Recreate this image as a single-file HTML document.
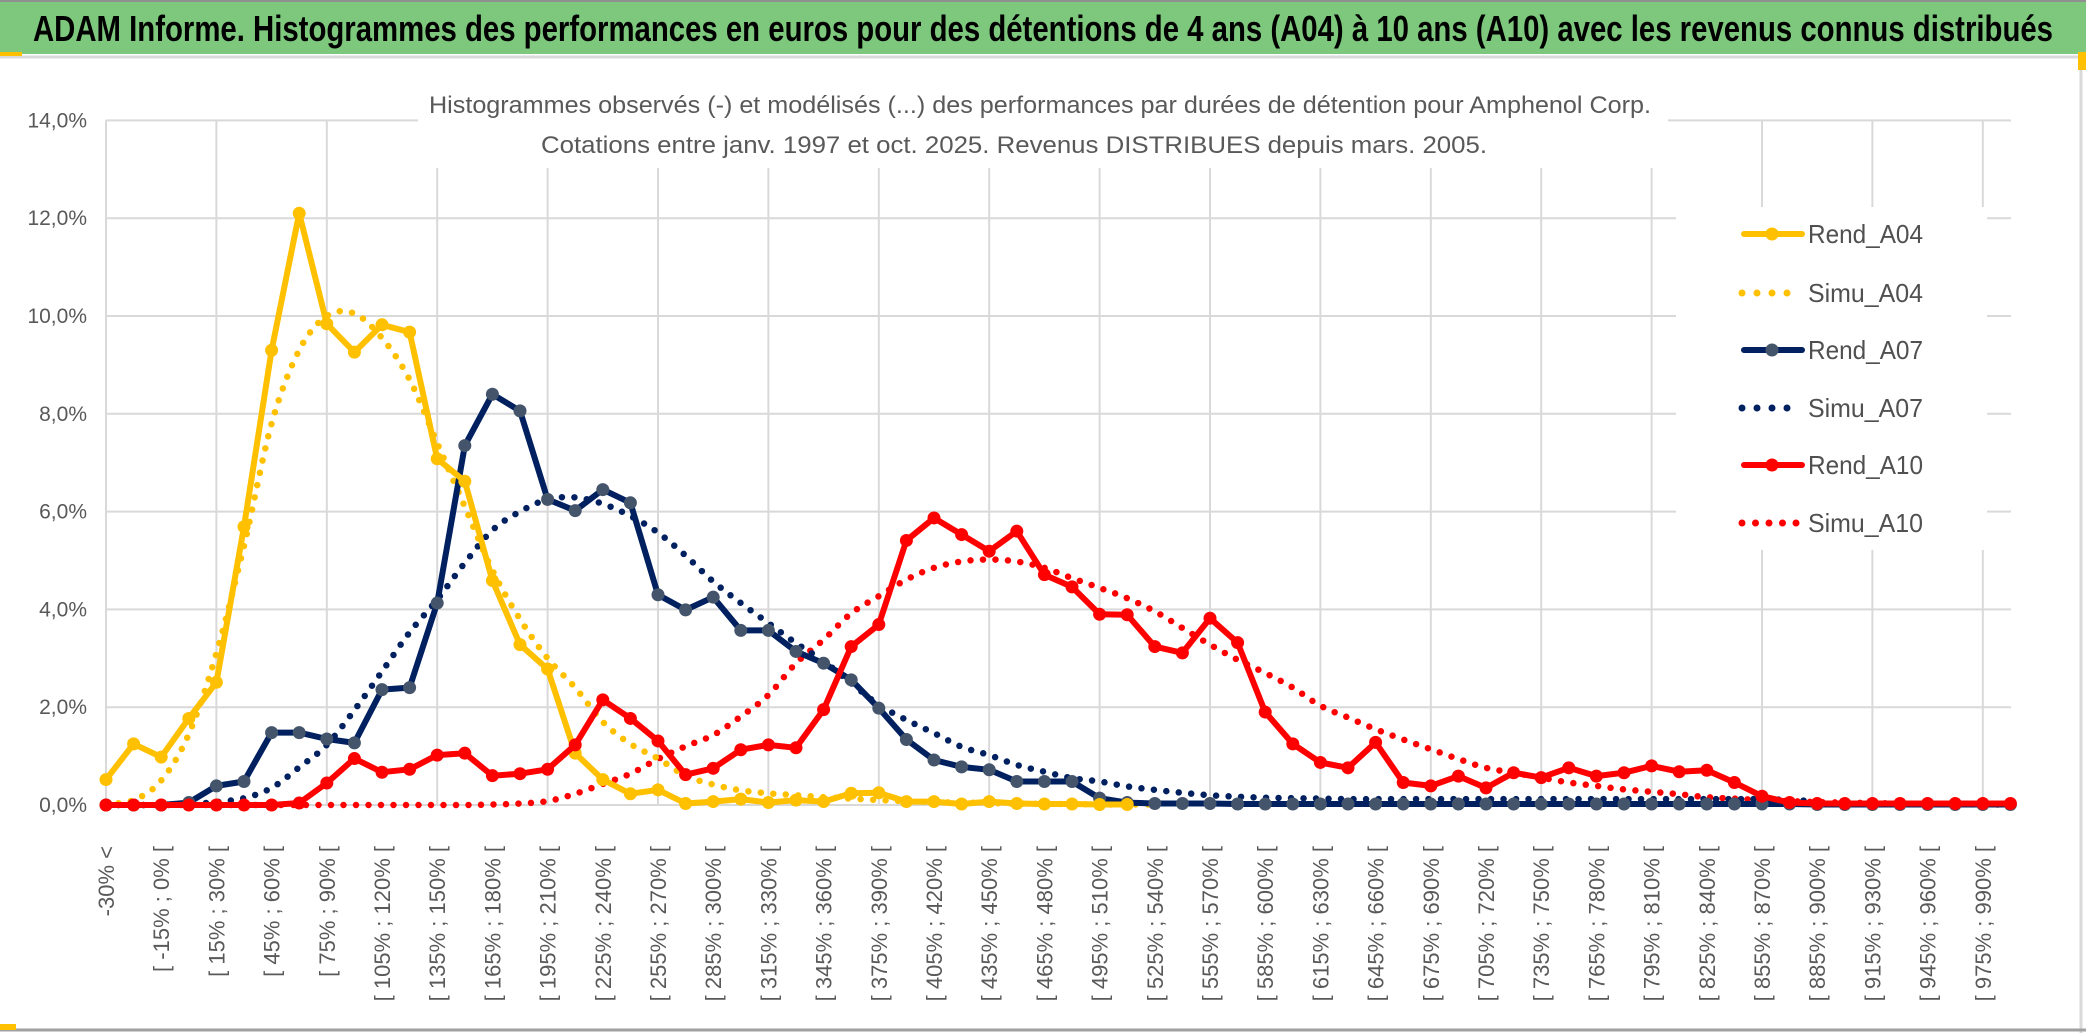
<!DOCTYPE html>
<html><head><meta charset="utf-8"><style>
html,body{margin:0;padding:0;background:#fff;}
svg{display:block;}
text{font-family:"Liberation Sans",sans-serif;}
</style></head><body>
<svg id="chart" width="2086" height="1033" viewBox="0 0 2086 1033" xmlns="http://www.w3.org/2000/svg">
<rect x="0" y="0" width="2086" height="1033" fill="#fff"/>
<rect x="0" y="0" width="2086" height="54" fill="#7dc87d"/>
<line x1="0" y1="1" x2="2086" y2="1" stroke="#909090" stroke-width="2"/>
<text x="33" y="41" font-size="36" font-weight="bold" fill="#000" textLength="2020" lengthAdjust="spacingAndGlyphs">ADAM Informe. Histogrammes des performances en euros pour des détentions de 4 ans (A04) à 10 ans (A10) avec les revenus connus distribués</text>
<line x1="0" y1="57" x2="2082" y2="57" stroke="#d9d9d9" stroke-width="3"/>
<line x1="2081" y1="57" x2="2081" y2="1033" stroke="#d9d9d9" stroke-width="3"/>
<line x1="0" y1="1030" x2="2086" y2="1030" stroke="#a0a0a0" stroke-width="3"/>
<rect x="0" y="52" width="22" height="4" fill="#ffc000"/>
<rect x="2078" y="52" width="8" height="18" fill="#ffc000"/>
<rect x="0" y="1024" width="16" height="6" fill="#ffc000"/>
<g id="grid"></g>
<rect x="418" y="78" width="1250" height="90" fill="#fff"/>
<text x="1040" y="113" font-size="24" fill="#595959" text-anchor="middle" textLength="1222" lengthAdjust="spacingAndGlyphs">Histogrammes observés (-) et modélisés (...) des performances par durées de détention pour Amphenol Corp.</text>
<text x="1014" y="153" font-size="24" fill="#595959" text-anchor="middle" textLength="946" lengthAdjust="spacingAndGlyphs">Cotations entre janv. 1997 et oct. 2025. Revenus DISTRIBUES depuis mars. 2005.</text>
<g id="xlabels"></g>
<g id="ylabels"></g>
<rect x="1676" y="207" width="311" height="343" fill="#fff"/>
<g id="series"></g>
<g id="legend"></g>
</svg>
<script>
const categories = ["-30% <","[ -30% ; -15% [","[ -15% ; 0% [","[ 0% ; 15% [","[ 15% ; 30% [","[ 30% ; 45% [","[ 45% ; 60% [","[ 60% ; 75% [","[ 75% ; 90% [","[ 90% ; 105% [","[ 105% ; 120% [","[ 120% ; 135% [","[ 135% ; 150% [","[ 150% ; 165% [","[ 165% ; 180% [","[ 180% ; 195% [","[ 195% ; 210% [","[ 210% ; 225% [","[ 225% ; 240% [","[ 240% ; 255% [","[ 255% ; 270% [","[ 270% ; 285% [","[ 285% ; 300% [","[ 300% ; 315% [","[ 315% ; 330% [","[ 330% ; 345% [","[ 345% ; 360% [","[ 360% ; 375% [","[ 375% ; 390% [","[ 390% ; 405% [","[ 405% ; 420% [","[ 420% ; 435% [","[ 435% ; 450% [","[ 450% ; 465% [","[ 465% ; 480% [","[ 480% ; 495% [","[ 495% ; 510% [","[ 510% ; 525% [","[ 525% ; 540% [","[ 540% ; 555% [","[ 555% ; 570% [","[ 570% ; 585% [","[ 585% ; 600% [","[ 600% ; 615% [","[ 615% ; 630% [","[ 630% ; 645% [","[ 645% ; 660% [","[ 660% ; 675% [","[ 675% ; 690% [","[ 690% ; 705% [","[ 705% ; 720% [","[ 720% ; 735% [","[ 735% ; 750% [","[ 750% ; 765% [","[ 765% ; 780% [","[ 780% ; 795% [","[ 795% ; 810% [","[ 810% ; 825% [","[ 825% ; 840% [","[ 840% ; 855% [","[ 855% ; 870% [","[ 870% ; 885% [","[ 885% ; 900% [","[ 900% ; 915% [","[ 915% ; 930% [","[ 930% ; 945% [","[ 945% ; 960% [","[ 960% ; 975% [","[ 975% ; 990% [","[ 990% ; 1005% ["];
const yTicks = [0,2,4,6,8,10,12,14];
const yTickLabels = ["0,0%","2,0%","4,0%","6,0%","8,0%","10,0%","12,0%","14,0%"];
const rendA04 = [0.52,1.25,0.98,1.77,2.51,5.69,9.30,12.10,9.84,9.26,9.82,9.67,7.08,6.62,4.59,3.28,2.78,1.06,0.52,0.23,0.31,0.03,0.07,0.12,0.05,0.1,0.07,0.24,0.25,0.07,0.07,0.02,0.07,0.03,0.02,0.02,0.01,0.01];
const simuA04 = [0.02,0.1,0.5,1.45,3.1,5.3,7.8,9.3,10.0,10.05,9.55,8.7,7.4,6.1,4.8,3.8,3.0,2.4,1.7,1.25,0.95,0.6,0.42,0.3,0.24,0.2,0.16,0.13,0.1,0.08,0.06,0.05,0.04,0.03,0.02,0.02,0.01,0.01,0.01];
const rendA07 = [0,0,0,0.05,0.39,0.48,1.48,1.48,1.35,1.27,2.36,2.40,4.13,7.35,8.40,8.06,6.25,6.02,6.45,6.18,4.30,3.99,4.25,3.57,3.57,3.14,2.90,2.56,1.98,1.34,0.92,0.78,0.72,0.48,0.48,0.48,0.14,0.05,0.03,0.03,0.03,0.02,0.02,0.02,0.02,0.02,0.02,0.02,0.02,0.02,0.02,0.02,0.02,0.02,0.02,0.02,0.02,0.02,0.02,0.02,0.02,0.02,0.01,0.01,0.01,0.01,0.01,0.01,0.01,0.01];
const simuA07 = [0,0,0,0.02,0.06,0.14,0.35,0.77,1.23,1.94,2.73,3.53,4.2,4.95,5.62,6.0,6.25,6.29,6.16,5.91,5.57,5.1,4.57,4.13,3.72,3.31,2.94,2.49,2.05,1.74,1.47,1.19,1.02,0.82,0.68,0.55,0.48,0.38,0.31,0.25,0.2,0.17,0.15,0.14,0.13,0.12,0.12,0.12,0.12,0.12,0.12,0.12,0.12,0.12,0.12,0.12,0.12,0.12,0.12,0.12,0.12,0.1,0.08];
const rendA10 = [0,0,0,0,0,0,0,0.04,0.45,0.95,0.67,0.73,1.02,1.06,0.6,0.64,0.73,1.23,2.15,1.77,1.31,0.62,0.75,1.13,1.23,1.17,1.95,3.24,3.69,5.41,5.87,5.53,5.19,5.6,4.71,4.46,3.9,3.89,3.24,3.11,3.82,3.32,1.9,1.25,0.87,0.76,1.28,0.46,0.39,0.59,0.35,0.66,0.56,0.76,0.59,0.66,0.8,0.68,0.71,0.46,0.18,0.05,0.03,0.03,0.03,0.03,0.03,0.03,0.03,0.03];
const simuA10 = [0,0,0,0,0,0,0,0,0,0,0,0,0,0,0.01,0.03,0.08,0.23,0.43,0.64,0.94,1.2,1.43,1.81,2.25,2.9,3.38,3.92,4.27,4.61,4.85,4.98,5.02,4.98,4.85,4.64,4.44,4.23,3.96,3.62,3.28,2.97,2.7,2.4,2.03,1.79,1.55,1.34,1.14,0.94,0.76,0.66,0.56,0.46,0.39,0.32,0.27,0.22,0.16,0.13,0.1,0.08,0.06,0.05,0.04,0.03,0.02,0.02,0.01,0.01];

const NS = "http://www.w3.org/2000/svg";
const X0 = 106, DX = 27.6, Y0 = 805, DY = 48.9;
function xPos(i){ return X0 + i*DX; }
function yPos(v){ return Y0 - v*DY; }
function mk(tag, attrs, parent){ const e=document.createElementNS(NS,tag); for(const k in attrs) e.setAttribute(k,attrs[k]); parent.appendChild(e); return e; }

const grid = document.getElementById('grid');
yTicks.forEach((t)=>{
  const l = mk('line',{x1:X0,x2:2011,y1:yPos(t),y2:yPos(t),stroke:'#d9d9d9','stroke-width':2},grid);
  
  
});
for(let i=0;i<categories.length;i+=4){
  const l = mk('line',{x1:xPos(i),x2:xPos(i),y1:yPos(14),y2:Y0,stroke:'#d9d9d9','stroke-width':2},grid);
  
  
}
const yl = document.getElementById('ylabels');
yTicks.forEach((t,k)=>{
  const e = mk('text',{x:87,y:yPos(t)+7,'font-size':21,fill:'#595959','text-anchor':'end'},yl);
  e.textContent = yTickLabels[k];
  
  
});
const xl = document.getElementById('xlabels');
categories.forEach((c,i)=>{
  if(i%2) return;
  const e = mk('text',{transform:`translate(${xPos(i)+8},846) rotate(-90)`,'font-size':22,fill:'#595959','text-anchor':'end'},xl);
  e.textContent = c;
  
  
});

function straight(vals){ return vals.map((v,i)=>(i?'L':'M')+xPos(i).toFixed(1)+' '+yPos(v).toFixed(1)).join(' '); }
function smooth(vals){
  const p = vals.map((v,i)=>[xPos(i),yPos(v)]);
  let d = 'M'+p[0][0]+' '+p[0][1];
  for(let i=0;i<p.length-1;i++){
    const p0=p[Math.max(0,i-1)], p1=p[i], p2=p[i+1], p3=p[Math.min(p.length-1,i+2)];
    const c1=[p1[0]+(p2[0]-p0[0])/6, p1[1]+(p2[1]-p0[1])/6];
    const c2=[p2[0]-(p3[0]-p1[0])/6, p2[1]-(p3[1]-p1[1])/6];
    d += ` C${c1[0].toFixed(1)} ${c1[1].toFixed(1)} ${c2[0].toFixed(1)} ${c2[1].toFixed(1)} ${p2[0].toFixed(1)} ${p2[1].toFixed(1)}`;
  }
  return d;
}
const sg = document.getElementById('series');
function dotted(vals,color,name){
  const e = mk('path',{d:smooth(vals),fill:'none',stroke:color,'stroke-width':6.5,'stroke-linecap':'round','stroke-dasharray':'0 12.5'},sg);
  
  
}
function solid(vals,color,mcolor,name){
  const g = mk('g',{},sg);
  
  
  mk('path',{d:straight(vals),fill:'none',stroke:color,'stroke-width':6,'stroke-linejoin':'round'},g);
  vals.forEach((v,i)=>{
    const c = mk('circle',{cx:xPos(i),cy:yPos(v),r:6.5,fill:mcolor},g);
    
    
  });
}
dotted(simuA10,'#ff0000','simu-a10-line');
dotted(simuA07,'#002060','simu-a07-line');
dotted(simuA04,'#ffc000','simu-a04-line');
solid(rendA07,'#002060','#44546a','rend-a07-line');
solid(rendA04,'#ffc000','#ffc000','rend-a04-line');
solid(rendA10,'#ff0000','#ff0000','rend-a10-line');

const legendNames = ["Rend_A04","Simu_A04","Rend_A07","Simu_A07","Rend_A10","Simu_A10"];
const legendColors = ['#ffc000','#ffc000','#002060','#002060','#ff0000','#ff0000'];
const legendY = [234,293,350,408,465,523];
const lg = document.getElementById('legend');
legendNames.forEach((n,k)=>{
  const g = mk('g',{},lg);
  
  
  const y = legendY[k];
  if(k%2===0){
    mk('line',{x1:1744,x2:1802,y1:y,y2:y,stroke:legendColors[k],'stroke-width':6,'stroke-linecap':'round'},g);
    mk('circle',{cx:1772,cy:y,r:6.5,fill:k===2?'#44546a':legendColors[k]},g);
  } else {
    const n2 = k===5?5:4;
    for(let j=0;j<n2;j++) mk('circle',{cx:1742+j*(k===5?13.5:15),cy:y,r:3.5,fill:legendColors[k]},g);
  }
  const t = mk('text',{x:1808,y:y+9,'font-size':26,fill:'#505050',textLength:115,lengthAdjust:'spacingAndGlyphs'},g);
  t.textContent = n;
});
</script>
</body></html>
